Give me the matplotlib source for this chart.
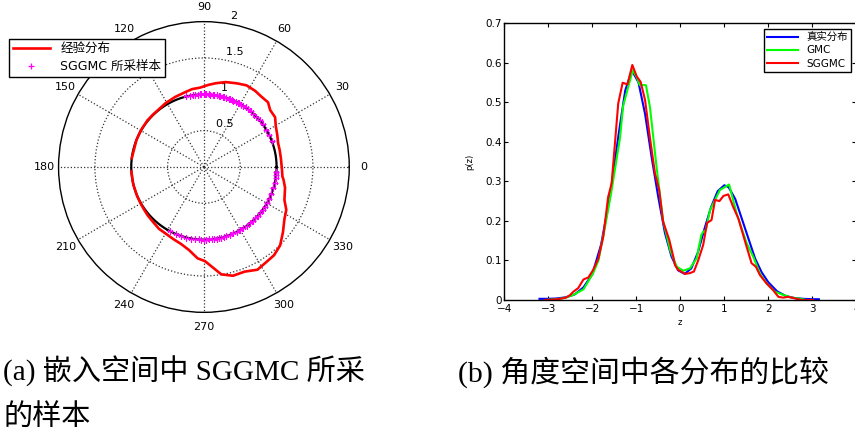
import numpy as np
import matplotlib
matplotlib.use("Agg")
import matplotlib.pyplot as plt

plt.rcParams['font.family'] = ['DejaVu Sans', 'Noto Sans CJK SC']
plt.rcParams['axes.unicode_minus'] = True

# angle-space densities (z in radians)
true_z = [-3.2, -3.0, -2.8, -2.6, -2.4, -2.2, -2.0, -1.8, -1.6, -1.4, -1.25, -1.1,
          -0.95, -0.8, -0.65, -0.5, -0.35, -0.2, -0.05, 0.1, 0.25, 0.4, 0.55, 0.7,
          0.85, 1.0, 1.1, 1.25, 1.4, 1.55, 1.7, 1.85, 2.0, 2.2, 2.4, 2.6, 2.8, 3.0, 3.15]
true_p = [0.003, 0.003, 0.004, 0.007, 0.014, 0.032, 0.065, 0.14, 0.26, 0.42, 0.53, 0.58,
          0.55, 0.47, 0.36, 0.26, 0.17, 0.11, 0.075, 0.066, 0.08, 0.12, 0.18, 0.235,
          0.275, 0.29, 0.285, 0.255, 0.205, 0.155, 0.105, 0.07, 0.045, 0.022, 0.01, 0.005,
          0.003, 0.002, 0.002]

gmc_z = [-3.08, -2.80, -2.60, -2.43, -2.20, -2.05, -1.98, -1.86, -1.71, -1.56, -1.37, -1.30,
         -1.18, -1.08, -0.99, -0.92, -0.78, -0.69, -0.54, -0.39, -0.23, -0.08, 0.07, 0.22,
         0.37, 0.48, 0.52, 0.58, 0.675, 0.79, 0.90, 1.11, 1.28, 1.51, 1.66, 1.81, 1.96,
         2.15, 2.34, 2.53, 2.68, 2.87]
gmc_p = [0.0, 0.002, 0.006, 0.013, 0.027, 0.055, 0.068, 0.10, 0.185, 0.278, 0.41, 0.49,
         0.54, 0.58, 0.563, 0.543, 0.543, 0.488, 0.337, 0.2, 0.126, 0.084, 0.074, 0.08,
         0.105, 0.165, 0.172, 0.177, 0.227, 0.253, 0.278, 0.292, 0.219, 0.143, 0.109, 0.067,
         0.042, 0.021, 0.013, 0.006, 0.004, 0.0]

sggmc_z = [-3.08, -2.90, -2.73, -2.60, -2.51, -2.43, -2.32, -2.20, -2.09, -1.98, -1.86, -1.75,
           -1.64, -1.56, -1.41, -1.31, -1.20, -1.09, -0.99, -0.90, -0.80, -0.69, -0.575, -0.48,
           -0.39, -0.25, -0.16, -0.12, -0.045, 0.11, 0.22, 0.31, 0.41, 0.52, 0.61, 0.71, 0.79,
           0.89, 0.98, 1.09, 1.20, 1.32, 1.43, 1.52, 1.62, 1.72, 1.81, 1.96, 2.11, 2.23, 2.34,
           2.45, 2.61, 2.76, 3.02]
sggmc_p = [0.0, 0.001, 0.003, 0.006, 0.012, 0.021, 0.030, 0.052, 0.057, 0.076, 0.105, 0.16,
           0.26, 0.295, 0.497, 0.549, 0.545, 0.594, 0.565, 0.551, 0.505, 0.41, 0.32, 0.278,
           0.198, 0.152, 0.11, 0.088, 0.076, 0.066, 0.068, 0.072, 0.101, 0.139, 0.195, 0.202,
           0.253, 0.25, 0.263, 0.267, 0.236, 0.206, 0.164, 0.13, 0.093, 0.084, 0.063, 0.042,
           0.025, 0.008, 0.006, 0.008, 0.004, 0.0, 0.0]

# SGGMC samples on the unit circle (degrees)
sample_deg = [104, 101, 99, 97, 95, 93, 92, 90, 89, 88, 86, 85, 83, 82, 80, 78, 77, 75, 74,
              72, 70, 69, 67, 66, 64, 62, 61, 59, 57, 55, 53, 50, 47, 44, 40, 36, 31, 26, 21,
              -4, -6, -9, -13, -17, -22, -26, -30, -33, -36, -39, -42, -45, -48, -51, -54,
              -57, -60, -63, -66, -69, -72, -74, -76, -78, -80, -82, -84, -86, -88, -90,
              -92, -94, -97, -100, -104, -108, -113, -118]

angle_ticks = [0, 30, 60, 90, 120, 150, 180, 210, 240, 270, 300, 330]
radial_ticks = [0.5, 1, 1.5, 2]

x_ticks = [-4, -3, -2, -1, 0, 1, 2, 3, 4]
y_ticks = [0, 0.1, 0.2, 0.3, 0.4, 0.5, 0.6, 0.7]

fig = plt.figure(figsize=(8.55, 4.36), dpi=100)

# ---- (a) polar plot ----
ax = fig.add_axes([0.0685, 0.2835, 0.340, 0.667], projection='polar')
th_circ = np.linspace(0, 2 * np.pi, 361)
ax.plot(th_circ, np.ones_like(th_circ), color='black', lw=1.6, zorder=3)
ax.plot(np.asarray(sggmc_z), 1 + np.asarray(sggmc_p), color='#ff0000', lw=1.9,
        zorder=4, label='经验分布')
ax.plot(np.deg2rad(sample_deg), np.ones(len(sample_deg)), linestyle='none', marker='+',
        color='#ff00ff', markersize=5, mew=0.9, zorder=5, label='SGGMC 所采样本')
ax.set_ylim(0, 2)
ax.set_yticks(radial_ticks[:-1])
ax.set_yticklabels([])
ax.set_xticks(np.deg2rad(angle_ticks))
ax.set_xticklabels([])
ax.grid(True, linestyle=':', color='#333333', linewidth=0.9)
ax.spines['polar'].set_linewidth(1.0)
ax.tick_params(length=0)
for a in angle_ticks:
    ax.text(np.deg2rad(a), 2.2, str(a), ha='center', va='center', fontsize=8)
for v in radial_ticks:
    ax.text(np.deg2rad(82), v + 0.025, '  ' + ('%g' % v), ha='left', va='bottom', fontsize=8)

ax.legend(loc='upper left', bbox_to_anchor=(0.0105, 0.9106), bbox_transform=fig.transFigure,
          borderaxespad=0, fancybox=False, edgecolor='black', framealpha=1, fontsize=9,
          handlelength=3.0, borderpad=0.3, labelspacing=0.35)

# ---- (b) density comparison ----
ax2 = fig.add_axes([0.5898, 0.3119, 0.4117, 0.6353])
ax2.plot(true_z, true_p, color='#0000ff', lw=1.5, label='真实分布')
ax2.plot(gmc_z, gmc_p, color='#00ff00', lw=1.5, label='GMC')
ax2.plot(sggmc_z, sggmc_p, color='#ff0000', lw=1.5, label='SGGMC')
ax2.set_xlim(-4, 4)
ax2.set_ylim(0, 0.7)
ax2.set_xticks(x_ticks)
ax2.set_yticks(y_ticks)
ax2.set_yticklabels(['%g' % t for t in y_ticks])
ax2.tick_params(direction='in', top=True, right=True, length=3, labelsize=7.5, pad=2)
ax2.tick_params(axis='x', pad=3)
for s in ax2.spines.values():
    s.set_linewidth(1.0)
ax2.set_xlabel('z', fontsize=6, labelpad=3)
ax2.set_ylabel('p(z)', fontsize=6, labelpad=8)
ax2.legend(loc='upper right', bbox_to_anchor=(0.9953, 0.9335), bbox_transform=fig.transFigure,
           borderaxespad=0, fancybox=False, edgecolor='black', framealpha=1, fontsize=7.5,
           handlelength=3.0, borderpad=0.3, labelspacing=0.3)

# ---- captions ----
cap_font = ['Liberation Serif', 'Noto Sans CJK SC']
fig.text(0.004, 0.147, '(a) 嵌入空间中 SGGMC 所采', family=cap_font, fontsize=21,
         ha='left', va='center')
fig.text(0.004, 0.041, '的样本', family=cap_font, fontsize=21, ha='left', va='center')
fig.text(0.536, 0.147, '(b) 角度空间中各分布的比较', family=cap_font, fontsize=21.5,
         ha='left', va='center')

fig.savefig('out.png', dpi=100)
